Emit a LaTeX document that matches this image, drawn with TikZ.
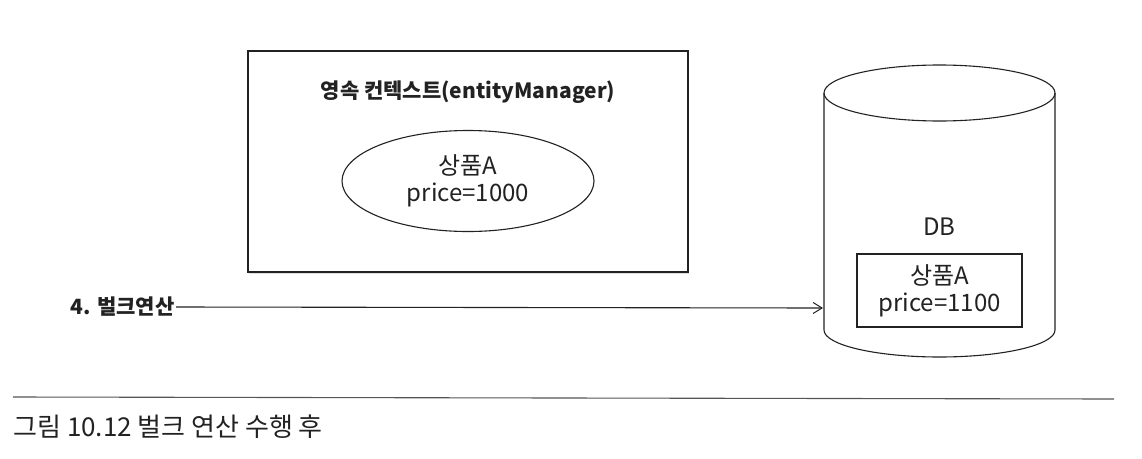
\documentclass[tikz,border=0pt]{standalone}
\usepackage{fontspec}
\setmainfont{Noto Sans CJK KR}
\usepackage{xcolor}
\usetikzlibrary{arrows.meta, shapes.geometric, shadows}
\definecolor{ink}{HTML}{222222}
\definecolor{rule}{HTML}{555555}

\begin{document}
\begin{tikzpicture}[x=1pt, y=-1pt, thick, ink,
    txt/.style={font=\fontsize{24}{27}\selectfont, align=center, inner sep=1pt},
    boldtxt/.style={font=\bfseries\fontsize{21}{24}\selectfont, inner sep=1pt},
    frame/.style={draw=ink, line width=1.3pt, drop shadow={opacity=0.25, shadow xshift=1pt, shadow yshift=-2pt}, fill=white},
    flow/.style={-{Straight Barb[length=9pt, width=11pt, line width=1pt]}, line width=1.1pt}]
            \useasboundingbox (0,0) rectangle (1142,458);

            % persistence context
            \node[frame, minimum width=440pt, minimum height=221pt] at (468,161.5) (ctx) {};
            \node[boldtxt] at (468,92) (ctxtitle) {영속 컨텍스트(entityManager)};
            \node[ellipse, draw, line width=1.1pt, minimum width=252pt, minimum height=101pt, txt] at (468,181) (item) {상품A\\price=1000};

            % database
            \draw[line width=1.1pt, fill=white] (824,93) -- (824,330)
                arc[start angle=180, end angle=360, x radius=115.5pt, y radius=27pt] -- (1055,93);
            \draw[line width=1.1pt] (939.5,93) ellipse [x radius=115.5pt, y radius=28pt];
            \node[txt] at (939.5,227) (db) {DB};
            \node[draw, line width=1.1pt, minimum width=165pt, minimum height=73pt, txt] at (939.5,290.5) (dbitem) {상품A\\price=1100};
            \coordinate (dbside) at (823,308);

            % bulk operation
            \node[boldtxt, anchor=east] at (176,307) (bulk) {4. 벌크연산};
            \draw [flow] (bulk.east) -- (dbside);

            % caption
            \draw[rule, line width=1.1pt] (13,397) -- (1114,399);
            \node[anchor=west, inner sep=0pt, font=\fontsize{26}{30}\selectfont] at (13,427) (caption) {그림 10.12 벌크 연산 수행 후};
        \end{tikzpicture}
\end{document}
